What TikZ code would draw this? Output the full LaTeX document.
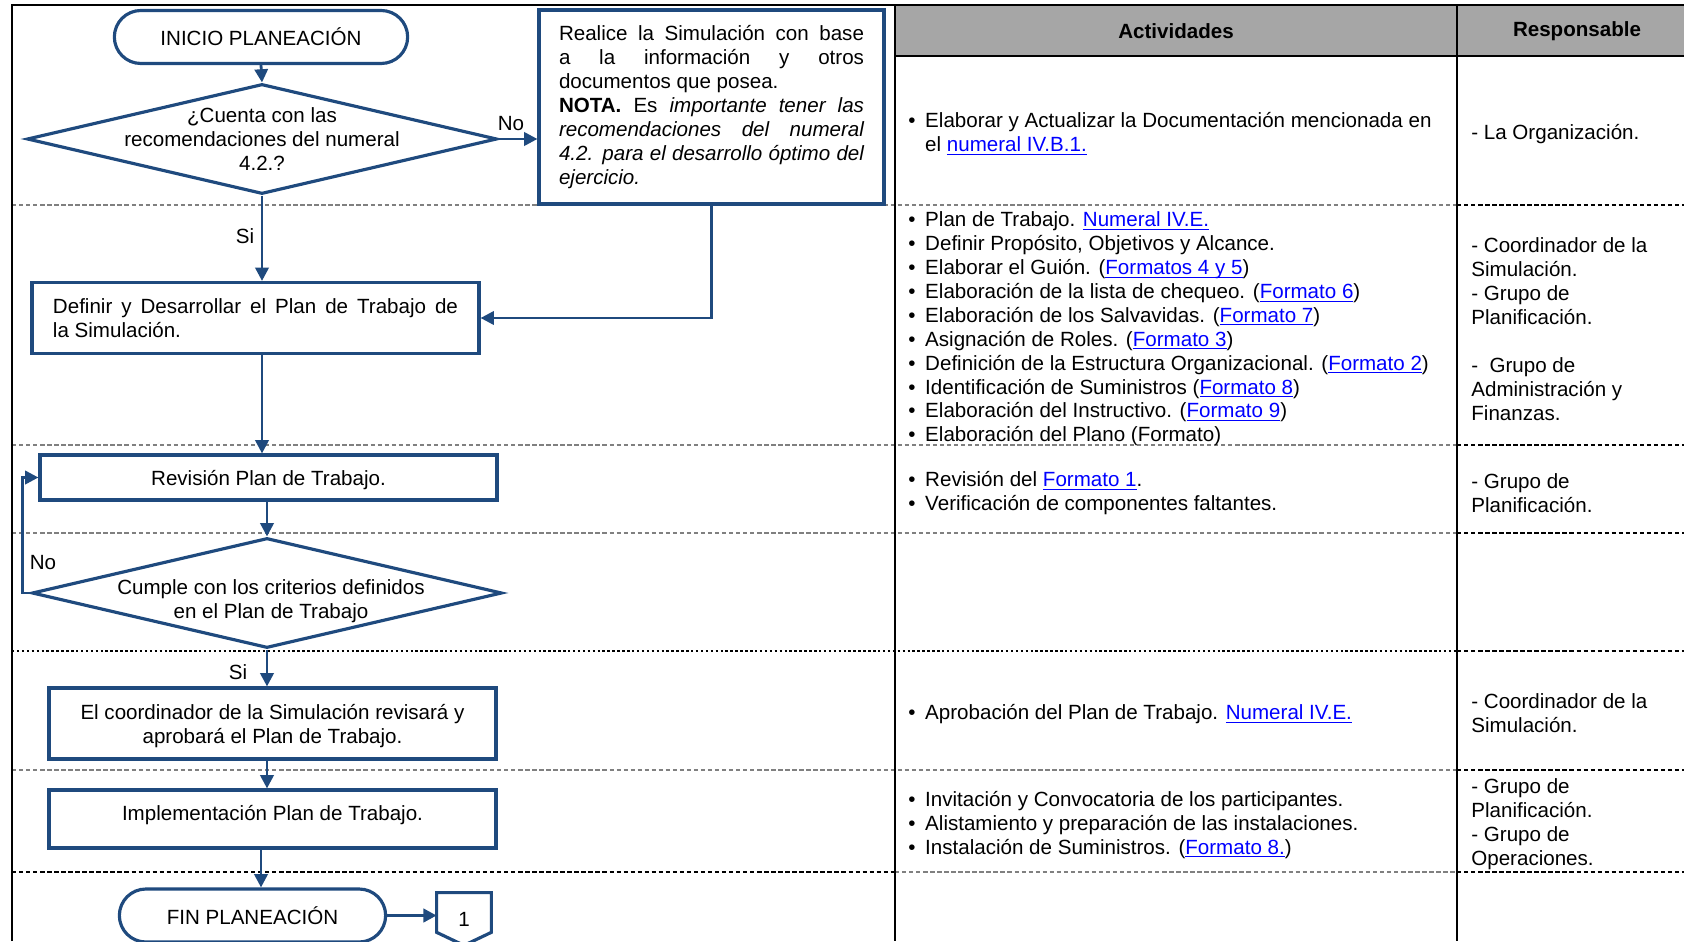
\documentclass[tikz,border=0pt]{standalone}
\usepackage{fontspec}
\setmainfont{Liberation Sans}
\usetikzlibrary{shapes.geometric, shapes.misc, arrows.meta, positioning, calc}
\definecolor{FlujoAzul}{HTML}{1F4A7E}
\definecolor{EnlaceAzul}{HTML}{0000FF}
\definecolor{EncabezadoGris}{HTML}{A6A6A6}
\definecolor{SeparadorGris}{HTML}{808080}
\newcommand{\letra}{\fontsize{11.7}{13.6}\selectfont}
\newcommand{\enlace}[1]{\textcolor{EnlaceAzul}{\underline{\smash{#1}}}}
\newcommand{\vineta}{\makebox[9.6pt][l]{\textbullet}}
\tikzset{
    % Cajas del flujo
    terminal/.style={
        rounded rectangle,
        draw=FlujoAzul,
        fill=white,
        line width=1.8pt,
        minimum height=1.06cm,
        font=\letra
    },
    proceso/.style={
        rectangle,
        draw=FlujoAzul,
        fill=white,
        line width=1.8pt,
        align=center,
        font=\letra
    },
    decision/.style={
        diamond,
        draw=FlujoAzul,
        fill=white,
        line width=1.8pt,
        minimum width=9.4cm,
        minimum height=2.2cm,
        inner sep=0pt
    },
    conector/.style={
        rectangle,
        minimum width=1.08cm,
        minimum height=1.04cm,
        font=\letra
    },
    % Textos
    texto/.style={font=\letra},
    encabezado/.style={font=\letra\bfseries},
    celda/.style={font=\letra, anchor=west, align=left, inner sep=0pt},
    % Flechas y lineas
    flecha/.style={
        ->,
        >={Triangle[length=7.5pt, width=7.5pt]},
        line width=1.6pt,
        draw=FlujoAzul
    },
    borde/.style={draw=black, line width=1.1pt},
    fina/.style={draw=SeparadorGris, line width=0.6pt, dash pattern=on 2.5pt off 1.5pt},
    gruesa/.style={draw=black, line width=1.2pt, dash pattern=on 2.5pt off 1.5pt},
    punteada/.style={draw=black, line width=1.4pt, dash pattern=on 1.4pt off 1.4pt}
}
\begin{document}
\begin{tikzpicture}[x=0.2mm, y=-0.2mm]
    \useasboundingbox (0,0) rectangle (1684,941);

    % Encabezado de la tabla
    \fill[EncabezadoGris] (895,5) rectangle (1684,56);
    \node[encabezado] (hAct) at (1176,31) {Actividades};
    \node[encabezado] (hResp) at (1577,31) {Responsable};

    % Separadores de filas
    \draw[fina] (12,205) -- (1457,205);
    \draw[gruesa] (1457,205) -- (1684,205);
    \draw[fina] (12,445) -- (1457,445);
    \draw[gruesa] (1457,445) -- (1684,445);
    \draw[fina] (12,533) -- (1457,533);
    \draw[gruesa] (1457,533) -- (1684,533);
    \draw[punteada] (12,651) -- (1457,651);
    \draw[gruesa, line width=0.9pt] (1457,651) -- (1684,651);
    \draw[fina] (12,770) -- (1457,770);
    \draw[gruesa] (1457,770) -- (1684,770);
    \draw[gruesa] (12,872) -- (895,872);
    \draw[fina] (895,872) -- (1457,872);
    \draw[gruesa] (1457,872) -- (1684,872);

    % Bordes y columnas
    \draw[borde] (12,941) -- (12,5) -- (1684,5);
    \draw[borde, line width=1.5pt] (895,56) -- (1684,56);
    \draw[borde] (895,5) -- (895,941);
    \draw[borde] (1457,5) -- (1457,941);

    % Actividades
    \node[celda] (act1) at (908,134) {\vineta Elaborar y Actualizar la Documentación mencionada en\\\hspace*{9.6pt}el \enlace{numeral IV.B.1.}};
    \node[celda] (act2) at (908,329) {\vineta Plan de Trabajo. \enlace{Numeral IV.E.}\\
        \vineta Definir Propósito, Objetivos y Alcance.\\
        \vineta Elaborar el Guión. (\enlace{Formatos 4 y 5})\\
        \vineta Elaboración de la lista de chequeo. (\enlace{Formato 6})\\
        \vineta Elaboración de los Salvavidas. (\enlace{Formato 7})\\
        \vineta Asignación de Roles. (\enlace{Formato 3})\\
        \vineta Definición de la Estructura Organizacional. (\enlace{Formato 2})\\
        \vineta Identificación de Suministros (\enlace{Formato 8})\\
        \vineta Elaboración del Instructivo. (\enlace{Formato 9})\\
        \vineta Elaboración del Plano (Formato)};
    \node[celda] (act3) at (908,493) {\vineta Revisión del \enlace{Formato 1}.\\\vineta Verificación de componentes faltantes.};
    \node[celda] (act5) at (908,714) {\vineta Aprobación del Plan de Trabajo. \enlace{Numeral IV.E.}};
    \node[celda] (act6) at (908,825) {\vineta Invitación y Convocatoria de los participantes.\\
        \vineta Alistamiento y preparación de las instalaciones.\\
        \vineta Instalación de Suministros. (\enlace{Formato 8.})};

    % Responsables
    \node[celda] (resp1) at (1471,134) {- La Organización.};
    \node[celda] (resp2) at (1471,329) {- Coordinador de la\\Simulación.\\- Grupo de\\Planificación.\\\mbox{}\\- \ Grupo de\\Administración y\\Finanzas.};
    \node[celda] (resp3) at (1471,493) {- Grupo de\\Planificación.};
    \node[celda] (resp5) at (1471,713) {- Coordinador de la\\Simulación.};
    \node[celda] (resp6) at (1471,824) {- Grupo de\\Planificación.\\- Grupo de\\Operaciones.};

    % Diagrama de flujo
    \node[terminal, minimum width=6.1cm] (inicio) at (261,37) {INICIO PLANEACIÓN};
    \node[decision] (dec1) at (262,139) {};
    \node[texto, align=center] (txtDec1) at (262,139) {¿Cuenta con las\\recomendaciones del numeral\\4.2.?};
    \node[proceso, minimum width=6.9cm, minimum height=3.88cm, text width=6.1cm, align=justify] (nota) at (711.5,107) {Realice la Simulación con base\linebreak a la información y otros\linebreak documentos que posea.\\\textbf{NOTA.} Es \textit{importante tener las\linebreak recomendaciones del numeral\linebreak 4.2. para el desarrollo óptimo del\linebreak ejercicio.}};
    \node[proceso, minimum width=8.94cm, minimum height=1.42cm, text width=8.1cm, align=justify] (plan) at (255.5,318) {Definir y Desarrollar el Plan de Trabajo de\linebreak la Simulación.};
    \node[proceso, minimum width=9.14cm, minimum height=0.9cm, text depth=0pt] (revision) at (268.5,477.5) {Revisión Plan de Trabajo.};
    \node[decision] (dec2) at (267,593) {};
    \node[texto, align=center] (txtDec2) at (271,601) {Cumple con los criterios definidos\\en el Plan de Trabajo};
    \node[proceso, minimum width=8.94cm, minimum height=1.42cm, text depth=0pt] (aprueba) at (272.5,723.5) {El coordinador de la Simulación revisará y\\aprobará el Plan de Trabajo.};
    \node[proceso, minimum width=8.94cm, minimum height=1.16cm, text depth=6.6pt] (implementa) at (272.5,819) {Implementación Plan de Trabajo.};
    \node[terminal, minimum width=5.56cm] (fin) at (252.5,915.5) {FIN PLANEACIÓN};

    % Conector de pagina
    \node[conector] (pagina) at (464,919) {1};
    \draw[draw=FlujoAzul, line width=1.8pt, line join=miter] (pagina.north west) -- (pagina.north east)
        -- ($(pagina.south east)+(0,-13)$) -- (pagina.south) -- ($(pagina.south west)+(0,-13)$) -- cycle;

    % Etiquetas Si / No
    \node[texto] (noUno) at (511,124) {No};
    \node[texto] (siUno) at (245,236) {Si};
    \node[texto] (noDos) at (43,563) {No};
    \node[texto] (siDos) at (238,672) {Si};

    % Flechas
    \draw[flecha] (inicio.south) -- (dec1.north);
    \draw[flecha] (dec1.east) -- (dec1.east -| nota.west);
    \draw[flecha] (dec1.south) -- (dec1.south |- plan.north);
    \draw[flecha] (nota.south) |- (plan.east);
    \draw[flecha] (dec1.south |- plan.south) -- (dec1.south |- revision.north);
    \draw[flecha] (dec2.north |- revision.south) -- (dec2.north);
    \draw[flecha] (dec2.west) -- ++(-8,0) |- (revision.west);
    \draw[flecha] (dec2.south) -- (dec2.south |- aprueba.north);
    \draw[flecha] (dec2.south |- aprueba.south) -- (dec2.south |- implementa.north);
    \draw[flecha] (inicio.south |- implementa.south) -- (inicio.south |- fin.north);
    \draw[flecha, line width=2.2pt] (fin.east) -- (fin.east -| pagina.west);
\end{tikzpicture}
\end{document}
